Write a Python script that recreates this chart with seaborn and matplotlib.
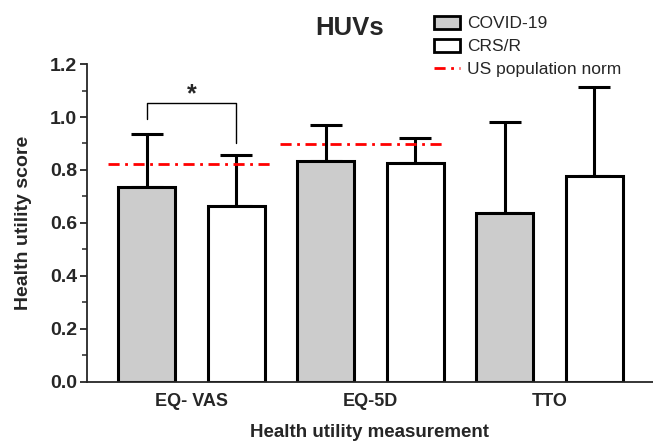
import numpy as np
import pandas as pd
import matplotlib
matplotlib.use("Agg")
import matplotlib.pyplot as plt
import seaborn as sns
from matplotlib.patches import Patch
from matplotlib.lines import Line2D

# ---- data ----
categories = ["EQ- VAS", "EQ-5D", "TTO"]
groups = ["COVID-19", "CRS/R"]
covid_mean = [0.737, 0.835, 0.636]
covid_sd = [0.199, 0.134, 0.344]
crs_mean = [0.665, 0.827, 0.777]
crs_sd = [0.192, 0.094, 0.338]
us_norm = [0.822, 0.899]          # EQ- VAS, EQ-5D
us_norm_span = [(-0.466, 0.455), (-0.506, 0.411)]
sig_bracket = [1.052, 0.991, 0.903]  # top, left foot, right foot
yticks = [0.0, 0.2, 0.4, 0.6, 0.8, 1.0, 1.2]

df = pd.DataFrame({
    "measure": categories * 2,
    "group": [groups[0]] * 3 + [groups[1]] * 3,
    "score": covid_mean + crs_mean,
})

sns.set_style("ticks")
plt.rcParams["font.family"] = ["Liberation Sans", "DejaVu Sans"]

fig = plt.figure(figsize=(6.53, 4.45), dpi=100)
ax = fig.add_axes([0.1332, 0.1422, 0.8668, 0.7138])

gray = "#cccccc"
sns.barplot(data=df, x="measure", y="score", hue="group", order=categories,
            hue_order=groups, palette=[gray, "white"], edgecolor="black",
            linewidth=2.2, width=1.0, gap=0.36, errorbar=None, legend=False,
            saturation=1, ax=ax, zorder=2)

# error bars (upper only)
for cont, sds in zip(ax.containers, [covid_sd, crs_sd]):
    xs = [p.get_x() + p.get_width() / 2 for p in cont.patches]
    hs = [p.get_height() for p in cont.patches]
    ax.errorbar(xs, hs, yerr=[np.zeros(len(sds)), sds], fmt="none",
                ecolor="black", elinewidth=2.2, capsize=11.5, capthick=2.2,
                zorder=1, clip_on=False)

# US population norms
for i, (val, (a, b)) in enumerate(zip(us_norm, us_norm_span)):
    ax.plot([i + a, i + b], [val, val], color="red", lw=2,
            dashes=(4, 2, 1, 2), zorder=3)

# significance bracket
xl = ax.containers[0].patches[0]
xr = ax.containers[1].patches[0]
x0 = xl.get_x() + xl.get_width() / 2
x1 = xr.get_x() + xr.get_width() / 2
top, lf, rf = sig_bracket
ax.plot([x0, x0, x1, x1], [lf, top, top, rf], color="black", lw=1.0,
        clip_on=False, zorder=3)
ax.text((x0 + x1) / 2, top - 0.012, "*", ha="center", va="bottom",
        fontsize=18, fontweight="bold")

ax.set_ylim(0, 1.2)
ax.set_xlim(-0.584, 2.578)
ax.set_yticks(yticks)
ax.set_yticklabels([f"{t:.1f}" for t in yticks])
ax.set_yticks(np.arange(0.1, 1.2, 0.2), minor=True)
ax.tick_params(axis="y", which="major", length=5, width=1.3,
               labelsize=14, pad=2)
ax.tick_params(axis="y", which="minor", length=3.5, width=1.1)
ax.tick_params(axis="x", length=0, labelsize=13, pad=8)
for lab in ax.get_yticklabels() + ax.get_xticklabels():
    lab.set_fontweight("bold")
for s in ["left", "bottom"]:
    ax.spines[s].set_linewidth(1.3)
sns.despine(ax=ax)

ax.set_ylabel("Health utility score", fontsize=14, fontweight="bold",
              labelpad=13)
ax.set_xlabel("Health utility measurement", fontsize=13.5,
              fontweight="bold", labelpad=10)

fig.text(0.535, 0.938, "HUVs", ha="center", va="center", fontsize=18.5,
         fontweight="bold")

handles = [
    Patch(facecolor=gray, edgecolor="black", linewidth=2),
    Patch(facecolor="white", edgecolor="black", linewidth=2),
    Line2D([], [], color="red", lw=2, dashes=(4, 2, 1, 2)),
]
fig.legend(handles, ["COVID-19", "CRS/R", "US population norm"],
           loc="upper left", bbox_to_anchor=(0.664, 0.965), frameon=False,
           fontsize=12.5, borderpad=0, borderaxespad=0, handlelength=1.5,
           handleheight=0.8, handletextpad=0.45, labelspacing=0.42)

fig.savefig("out.png", dpi=100)
